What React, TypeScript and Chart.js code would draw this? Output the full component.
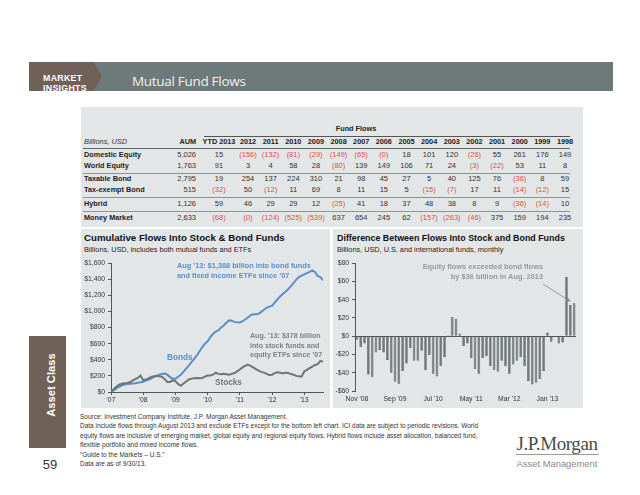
import React, { useEffect, useRef } from 'react';
import { Chart, registerables } from 'chart.js';
Chart.register(...registerables);

const FONT = '"Liberation Sans", Arial, Helvetica, sans-serif';
Chart.defaults.font.family = FONT;

// ---------- Table data ----------
const tableYears = ['YTD 2013', '2012', '2011', '2010', '2009', '2008', '2007', '2006', '2005', '2004', '2003', '2002', '2001', '2000', '1999', '1998'];
const assetClasses = ['Domestic Equity', 'World Equity', 'Taxable Bond', 'Tax-exempt Bond', 'Hybrid', 'Money Market'];
const aum = [5026, 1763, 2795, 515, 1126, 2633];
const domesticEquity = [15, -156, -132, -81, -29, -149, -65, -0, 18, 101, 120, -26, 55, 261, 176, 149];
const worldEquity = [91, 3, 4, 58, 28, -80, 139, 149, 106, 71, 24, -3, -22, 53, 11, 8];
const taxableBond = [19, 254, 137, 224, 310, 21, 98, 45, 27, 5, 40, 125, 76, -36, 8, 59];
const taxExemptBond = [-32, 50, -12, 11, 69, 8, 11, 15, 5, -15, -7, 17, 11, -14, -12, 15];
const hybrid = [59, 46, 29, 29, 12, -25, 41, 18, 37, 48, 38, 8, 9, -36, -14, 10];
const moneyMarket = [-68, -0, -124, -525, -539, 637, 654, 245, 62, -157, -263, -46, 375, 159, 194, 235];
const flowRows = [domesticEquity, worldEquity, taxableBond, taxExemptBond, hybrid, moneyMarket];

// ---------- Cumulative flows (monthly, Jan 2007 - Aug 2013), $bn ----------
const cumStartYear = 2007;
const yearTickLabels = ["'07", "'08", "'09", "'10", "'11", "'12", "'13"];
const bondsCum = [
  0, 20, 45, 65, 80, 92, 98, 102, 105, 108, 114, 120,
  127, 142, 155, 170, 185, 200, 215, 225, 228, 215, 185, 165,
  165, 190, 215, 250, 290, 330, 370, 410, 455, 505, 555, 600,
  630, 680, 720, 750, 765, 800, 825, 860, 890, 885, 870, 865,
  862, 880, 900, 925, 950, 965, 965, 970, 995, 1020, 1045, 1060,
  1070, 1110, 1150, 1185, 1215, 1245, 1275, 1310, 1350, 1395, 1425, 1445,
  1460, 1475, 1490, 1510, 1490, 1440, 1425, 1388,
];
const stocksCum = [
  0, 35, 65, 90, 103, 108, 112, 120, 140, 160, 175, 205,
  147, 155, 170, 188, 195, 200, 195, 190, 160, 125, 125, 145,
  135, 100, 78, 105, 130, 155, 165, 172, 175, 172, 175, 190,
  205, 205, 215, 240, 225, 220, 225, 220, 215, 225, 235, 255,
  280, 305, 325, 340, 325, 305, 285, 265, 250, 240, 225, 210,
  215, 235, 245, 240, 230, 240, 235, 225, 215, 200, 195, 190,
  255, 275, 295, 315, 335, 345, 385, 378,
];

// ---------- Difference between stock and bond flows (monthly, Nov 2008 - Aug 2013), $bn ----------
const monthNames = ['Jan', 'Feb', 'Mar', 'Apr', 'May', 'Jun', 'Jul', 'Aug', 'Sep', 'Oct', 'Nov', 'Dec'];
const diffStart = { year: 2008, month: 10 };
const flowDiff = [
  -4, -12, -8, -42, -45, -18, -15, -18, -26, -40,
  -50, -52, -38, -30, -13, -27, -27, -16, -37, -21,
  -41, -44, -33, -23, 1, 21, 19, 3, -11, -8,
  -24, -36, -41, -24, -22, -33, -37, -39, -27, -33,
  -41, -31, -27, -23, -33, -49, -53, -51, -47, -38,
  4, -6, 0.5, -8, -7, 65, 34, 36,
];
const diffLabels = flowDiff.map((_, i) => {
  const m = diffStart.month + i;
  const y = diffStart.year + Math.floor(m / 12);
  return `${monthNames[m % 12]} '${String(y).slice(2)}`;
});
const diffTickEvery = 10;

// ---------- colours ----------
const PANEL = '#e3e6e7';
const BOND = '#5b8dc9';
const STOCK = '#6b7672';
const RED = '#e24c4c';

const isNeg = (v: number) => v < 0 || Object.is(v, -0);
const fmt = (v: number) => (isNeg(v) ? `(${Math.abs(v).toLocaleString('en-US')})` : v.toLocaleString('en-US'));

type TOpts = { align?: 'left' | 'center' | 'right'; size?: number; bold?: boolean; italic?: boolean; color?: string; family?: string; weight?: number; ls?: number };
function T({ x, y, children, o = {} }: { x: number; y: number; children: React.ReactNode; o?: TOpts }) {
  const align = o.align || 'left';
  const tx = align === 'center' ? '-50%' : align === 'right' ? '-100%' : '0';
  return (
    <div
      style={{
        position: 'absolute',
        left: x,
        top: y,
        transform: `translate(${tx}, -50%)`,
        whiteSpace: 'nowrap',
        fontSize: o.size || 7.4,
        lineHeight: 1.15,
        fontWeight: o.weight || (o.bold ? 700 : 400),
        fontStyle: o.italic ? 'italic' : 'normal',
        color: o.color || '#222',
        fontFamily: o.family || FONT,
        letterSpacing: o.ls || 0,
      }}
    >
      {children}
    </div>
  );
}

function CumulativeChart() {
  const ref = useRef<HTMLCanvasElement | null>(null);
  useEffect(() => {
    if (!ref.current) return;
    const toPts = (arr: number[]) => arr.map((v, i) => ({ x: cumStartYear + i / 12, y: v }));
    const chart = new Chart(ref.current, {
      type: 'line',
      data: {
        datasets: [
          { label: 'Stocks', data: toPts(stocksCum), borderColor: STOCK, borderWidth: 2, pointRadius: 0, tension: 0 },
          { label: 'Bonds', data: toPts(bondsCum), borderColor: BOND, borderWidth: 2, pointRadius: 0, tension: 0 },
        ],
      },
      options: {
        animation: false,
        responsive: false,
        events: [],
        layout: { padding: { top: 6, right: 7, left: 0, bottom: 0 } },
        plugins: { legend: { display: false }, tooltip: { enabled: false } },
        scales: {
          x: {
            type: 'linear',
            min: cumStartYear,
            max: cumStartYear + (bondsCum.length - 1) / 12,
            ticks: {
              stepSize: 1,
              includeBounds: false,
              autoSkip: false,
              maxRotation: 0,
              padding: 1,
              color: '#333',
              font: { size: 6.8 },
              callback: (v: any) => yearTickLabels[Math.round(Number(v) - cumStartYear)] ?? '',
            },
            grid: { drawOnChartArea: false, drawTicks: true, tickLength: 3, color: '#555' },
            border: { display: true, color: '#555', width: 1 },
            afterFit: (s: any) => { s.height = 16; },
          },
          y: {
            min: 0,
            max: 1600,
            ticks: {
              stepSize: 200,
              padding: 3,
              color: '#333',
              font: { size: 6.8 },
              callback: (v: any) => '$' + Number(v).toLocaleString('en-US'),
            },
            grid: { drawOnChartArea: false, drawTicks: true, tickLength: 3, color: '#555' },
            border: { display: true, color: '#555', width: 1 },
            afterFit: (s: any) => { s.width = 30; },
          },
        },
      },
    });
    return () => chart.destroy();
  }, []);
  return <canvas ref={ref} width={249} height={152} style={{ position: 'absolute', left: 81, top: 256, width: 249, height: 152 }} />;
}

function DiffChart() {
  const ref = useRef<HTMLCanvasElement | null>(null);
  useEffect(() => {
    if (!ref.current) return;
    const arrowPlugin = {
      id: 'arrowNote',
      afterDatasetsDraw(chart: any) {
        const { ctx, scales } = chart;
        const ex = scales.x.getPixelForValue(flowDiff.length - 2);
        const ey = scales.y.getPixelForValue(38);
        const sx = 210;
        const sy = 28;
        ctx.save();
        ctx.strokeStyle = '#7f8785';
        ctx.fillStyle = '#7f8785';
        ctx.lineWidth = 0.8;
        ctx.beginPath();
        ctx.moveTo(sx, sy);
        ctx.lineTo(ex, ey);
        ctx.stroke();
        const ang = Math.atan2(ey - sy, ex - sx);
        const L = 5;
        ctx.beginPath();
        ctx.moveTo(ex, ey);
        ctx.lineTo(ex - L * Math.cos(ang - 0.45), ey - L * Math.sin(ang - 0.45));
        ctx.lineTo(ex - L * Math.cos(ang + 0.45), ey - L * Math.sin(ang + 0.45));
        ctx.closePath();
        ctx.fill();
        ctx.restore();
      },
    };
    const chart = new Chart(ref.current, {
      type: 'bar',
      data: {
        labels: diffLabels,
        datasets: [
          {
            label: 'Stock minus bond flows',
            data: flowDiff,
            backgroundColor: '#6f7977',
            borderColor: '#4f5755',
            borderWidth: 0.6,
            barPercentage: 0.7,
            categoryPercentage: 1,
          },
        ],
      },
      options: {
        animation: false,
        responsive: false,
        events: [],
        layout: { padding: { top: 6, right: 7, left: 0, bottom: 0 } },
        plugins: { legend: { display: false }, tooltip: { enabled: false } },
        scales: {
          x: {
            type: 'category',
            offset: true,
            ticks: {
              autoSkip: false,
              maxRotation: 0,
              padding: 2,
              color: '#333',
              font: { size: 6.8 },
              callback: (_v: any, i: number) => (i % diffTickEvery === 0 ? diffLabels[i] : ''),
            },
            grid: { display: true, drawOnChartArea: false, drawTicks: true, tickLength: 2, color: 'rgba(0,0,0,0)' },
            border: { display: false },
            afterFit: (s: any) => { s.height = 17; },
          },
          y: {
            min: -60,
            max: 80,
            ticks: {
              stepSize: 20,
              padding: 3,
              color: '#333',
              font: { size: 6.8 },
              callback: (v: any) => (Number(v) < 0 ? '-$' : '$') + Math.abs(Number(v)),
            },
            grid: {
              drawOnChartArea: true,
              drawTicks: true,
              tickLength: 3,
              color: (c: any) => (c.tick && c.tick.value === 0 ? '#555' : 'rgba(0,0,0,0)'),
              tickColor: '#555',
            },
            border: { display: true, color: '#555', width: 1 },
            afterFit: (s: any) => { s.width = 22; },
          },
        },
      },
      plugins: [arrowPlugin],
    });
    return () => chart.destroy();
  }, []);
  return <canvas ref={ref} width={250} height={152} style={{ position: 'absolute', left: 333, top: 256, width: 250, height: 152 }} />;
}

export default function App() {
  const colX = [219, 248, 270.6, 293.3, 315.9, 338.6, 361.2, 383.8, 406.5, 429.1, 451.8, 474.4, 497, 519.7, 542.3, 565];
  const rowY = [155, 166, 179, 190, 204, 218];
  const hLine = (y: number, x1: number, x2: number, color: string, h = 1) => (
    <div key={'l' + y} style={{ position: 'absolute', left: x1, top: y, width: x2 - x1, height: h, background: color }} />
  );
  const footnotes = [
    'Source: Investment Company Institute, J.P. Morgan Asset Management.',
    'Data include flows through August 2013 and exclude ETFs except for the bottom left chart. ICI data are subject to periodic revisions. World',
    'equity flows are inclusive of emerging market, global equity and regional equity flows. Hybrid flows include asset allocation, balanced fund,',
    'flexible portfolio and mixed income flows.',
    '“Guide to the Markets – U.S.”',
    'Data are as of 9/30/13.',
  ];
  return (
    <div style={{ position: 'absolute', left: 0, top: 0, width: 640, height: 495, background: '#fff', overflow: 'hidden', fontFamily: FONT }}>
      {/* Header */}
      <div style={{ position: 'absolute', left: 29, top: 62, width: 584, height: 29, background: '#6e7a7a' }} />
      <div style={{ position: 'absolute', left: 29, top: 62, width: 73, height: 29, background: '#6f6158', clipPath: 'polygon(0 0, 88% 0, 100% 50%, 88% 100%, 0 100%)' }} />
      <div style={{ position: 'absolute', left: 29, top: 62, width: 73, height: 29, overflow: 'hidden' }}>
        <div style={{ position: 'absolute', left: 14, top: 12, color: '#fff', fontWeight: 700, fontSize: 8.8, lineHeight: '9.6px', letterSpacing: 0.3 }}>
          MARKET
          <br />
          INSIGHTS
        </div>
      </div>
      <T x={132} y={82} o={{ size: 13.5, color: '#eef0f0', family: '"Open Sans", ' + FONT, ls: -0.3 }}>Mutual Fund Flows</T>

      {/* Table panel */}
      <div style={{ position: 'absolute', left: 81, top: 107, width: 502, height: 120, background: PANEL }} />
      <T x={356} y={129} o={{ align: 'center', bold: true, size: 7.3 }}>Fund Flows</T>
      {hLine(136, 204, 570, '#555')}
      <T x={84} y={142} o={{ italic: true, size: 7.4, color: '#333' }}>Billions, USD</T>
      <T x={196} y={142} o={{ align: 'right', bold: true, size: 7.3 }}>AUM</T>
      {tableYears.map((yl, j) => (
        <T key={'h' + j} x={colX[j]} y={142} o={{ align: 'center', bold: true, size: 7.3 }}>{yl}</T>
      ))}
      {hLine(148, 83, 570, '#666')}
      {hLine(173, 83, 570, '#8e9394')}
      {hLine(197, 83, 570, '#8e9394')}
      {hLine(211, 83, 570, '#8e9394')}
      {assetClasses.map((name, r) => (
        <React.Fragment key={'r' + r}>
          <T x={84} y={rowY[r]} o={{ bold: true, size: 7.3 }}>{name}</T>
          <T x={196} y={rowY[r]} o={{ align: 'right', size: 7.5, color: '#333' }}>{fmt(aum[r])}</T>
          {flowRows[r].map((v, j) => (
            <T key={j} x={colX[j]} y={rowY[r]} o={{ align: 'center', size: 7.5, color: isNeg(v) ? RED : '#333' }}>{fmt(v)}</T>
          ))}
        </React.Fragment>
      ))}

      {/* Chart panels */}
      <div style={{ position: 'absolute', left: 81, top: 229, width: 249, height: 179, background: PANEL }} />
      <div style={{ position: 'absolute', left: 333, top: 229, width: 250, height: 179, background: PANEL }} />
      <T x={84} y={238} o={{ bold: true, size: 9.7, color: '#111' }}>Cumulative Flows Into Stock &amp; Bond Funds</T>
      <T x={84} y={249.5} o={{ size: 7.3, color: '#222' }}>Billions, USD, includes both mutual funds and ETFs</T>
      <T x={337} y={238} o={{ bold: true, size: 8.9, color: '#111' }}>Difference Between Flows Into Stock and Bond Funds</T>
      <T x={337} y={249.5} o={{ size: 7.3, color: '#222' }}>Billions, USD, U.S. and international funds, monthly</T>

      <CumulativeChart />
      <DiffChart />

      {/* Annotations */}
      <T x={177} y={266} o={{ bold: true, size: 7.3, color: BOND }}>Aug ’13: $1,388 billion into bond funds</T>
      <T x={177} y={275.5} o={{ bold: true, size: 7.3, color: BOND }}>and fixed income ETFs since ’07</T>
      <T x={250} y={336} o={{ bold: true, size: 7.1, color: '#7a8280' }}>Aug. ’13: $378 billion</T>
      <T x={250} y={345.5} o={{ bold: true, size: 7.1, color: '#7a8280' }}>into stock funds and</T>
      <T x={250} y={355} o={{ bold: true, size: 7.1, color: '#7a8280' }}>equity ETFs since ’07</T>
      <T x={167} y={358} o={{ bold: true, size: 8.2, color: BOND }}>Bonds</T>
      <T x={215} y={383} o={{ bold: true, size: 8.2, color: STOCK }}>Stocks</T>
      <T x={543} y={267} o={{ align: 'right', bold: true, size: 7.4, color: '#949a99' }}>Equity flows exceeded bond flows</T>
      <T x={543} y={277} o={{ align: 'right', bold: true, size: 7.4, color: '#949a99' }}>by $36 billion in Aug. 2013</T>

      {/* Side tab */}
      <div style={{ position: 'absolute', left: 29, top: 336, width: 37, height: 112, background: '#6f6158' }} />
      <div style={{ position: 'absolute', left: 52, top: 385, transform: 'translate(-50%, -50%) rotate(-90deg)', color: '#fff', fontWeight: 700, fontSize: 11.2, whiteSpace: 'nowrap', lineHeight: 1 }}>Asset Class</div>
      <T x={50} y={465} o={{ align: 'center', size: 13, color: '#333' }}>59</T>

      {/* Footnotes */}
      {footnotes.map((f, i) => (
        <T key={'f' + i} x={80} y={416.5 + i * 9.5} o={{ size: 6.5, color: '#333' }}>{f}</T>
      ))}

      {/* Logo */}
      <T x={557} y={444} o={{ align: 'center', size: 19, color: '#4a4a4a', family: '"Liberation Serif", "DejaVu Serif", serif', ls: -0.4 }}>J.P.Morgan</T>
      <div style={{ position: 'absolute', left: 516, top: 454, width: 83, height: 1, background: '#9a9a9a' }} />
      <T x={557} y={463.5} o={{ align: 'center', size: 9.4, color: '#8a8a8a' }}>Asset Management</T>
    </div>
  );
}
